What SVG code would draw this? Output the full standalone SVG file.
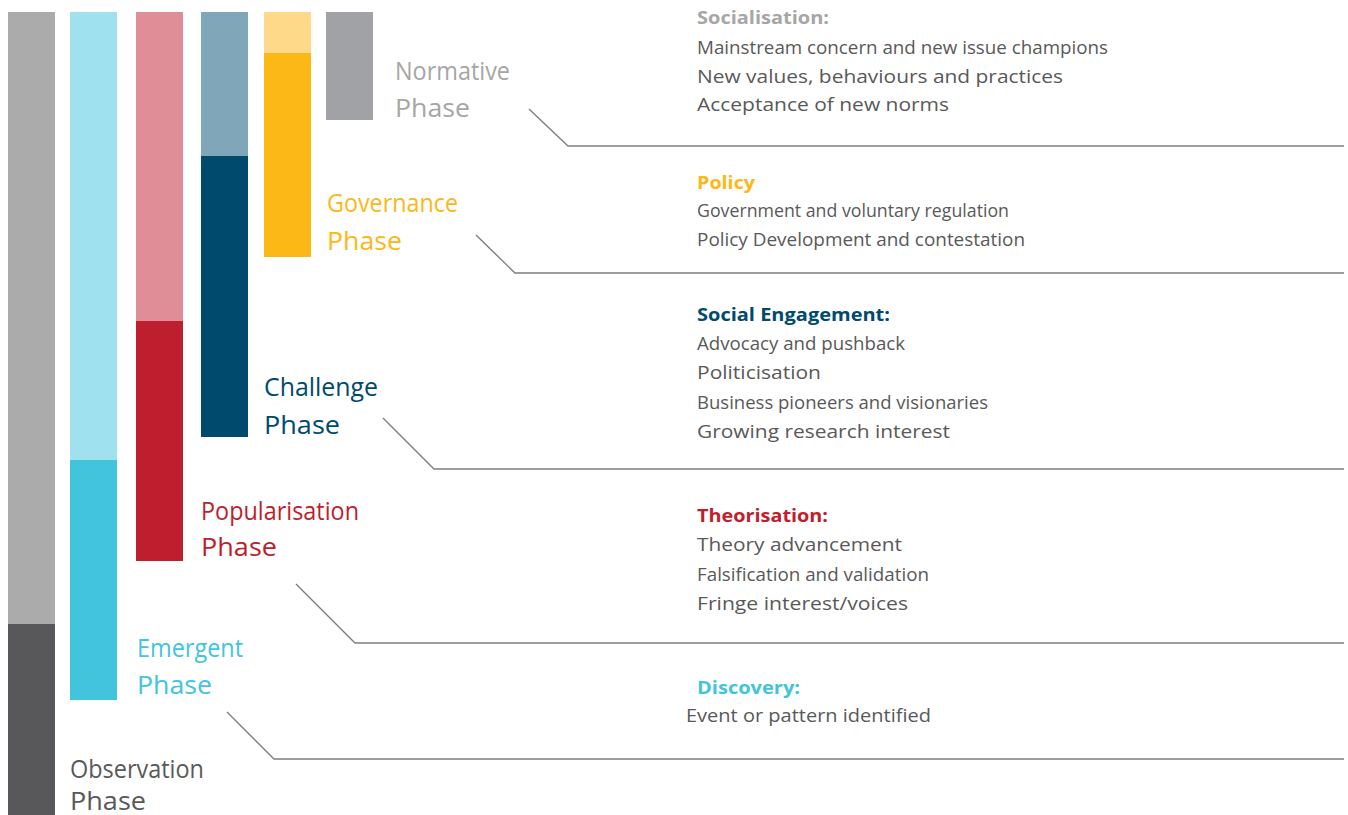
<svg xmlns="http://www.w3.org/2000/svg" width="1348" height="815" viewBox="0 0 1348 815">
<style>
text{font-family:"Open Sans","Noto Sans","Liberation Sans",sans-serif;}
.ph{font-size:25px;font-weight:400;}
.b{font-size:19px;fill:#595959;}
.s{font-size:18px;fill:#595959;}
.h{font-size:18.5px;font-weight:700;}
.conn{fill:none;stroke:#7F7F7F;stroke-width:1.4;}
</style>
<rect width="1348" height="815" fill="#FFFFFF"/>
<g id="observation">
<rect x="8" y="12" width="47" height="612" fill="#ABABAB"/>
<rect x="8" y="624" width="47" height="191" fill="#58585A"/>
<text class="ph" x="70" y="778" fill="#595959" textLength="134" lengthAdjust="spacingAndGlyphs">Observation</text>
<text class="ph" x="70" y="810" fill="#595959" textLength="76" lengthAdjust="spacingAndGlyphs">Phase</text>
</g>
<g id="emergent">
<rect x="70" y="12" width="47" height="448" fill="#A0E1EF"/>
<rect x="70" y="460" width="47" height="240" fill="#42C4DD"/>
<text class="ph" x="137" y="657" fill="#42C4DD" textLength="106" lengthAdjust="spacingAndGlyphs">Emergent</text>
<text class="ph" x="137" y="694" fill="#42C4DD" textLength="75" lengthAdjust="spacingAndGlyphs">Phase</text>
</g>
<g id="popularisation">
<rect x="136" y="12" width="47" height="309" fill="#DF8E98"/>
<rect x="136" y="321" width="47" height="240" fill="#BE1E2D"/>
<text class="ph" x="201" y="520" fill="#BE1E2D" textLength="158" lengthAdjust="spacingAndGlyphs">Popularisation</text>
<text class="ph" x="201" y="556" fill="#BE1E2D" textLength="76" lengthAdjust="spacingAndGlyphs">Phase</text>
</g>
<g id="challenge">
<rect x="201" y="12" width="47" height="144" fill="#80A6BA"/>
<rect x="201" y="156" width="47" height="281" fill="#004A6E"/>
<text class="ph" x="264" y="396" fill="#004A6E" textLength="114" lengthAdjust="spacingAndGlyphs">Challenge</text>
<text class="ph" x="264" y="434" fill="#004A6E" textLength="76" lengthAdjust="spacingAndGlyphs">Phase</text>
</g>
<g id="governance">
<rect x="264" y="12" width="47" height="41" fill="#FFD98A"/>
<rect x="264" y="53" width="47" height="204" fill="#FBB817"/>
<text class="ph" x="327" y="212" fill="#FBB817" textLength="131" lengthAdjust="spacingAndGlyphs">Governance</text>
<text class="ph" x="327" y="250" fill="#FBB817" textLength="75" lengthAdjust="spacingAndGlyphs">Phase</text>
</g>
<g id="normative">
<rect x="326" y="12" width="47" height="108" fill="#A1A2A6"/>
<text class="ph" x="395" y="80" fill="#A6A6A6" textLength="115" lengthAdjust="spacingAndGlyphs">Normative</text>
<text class="ph" x="395" y="117" fill="#A6A6A6" textLength="75" lengthAdjust="spacingAndGlyphs">Phase</text>
</g>
<g id="connectors">
<polyline class="conn" points="529,109 568,146 1344,146"/>
<polyline class="conn" points="476,235 515,273 1344,273"/>
<polyline class="conn" points="383,418 434,469 1344,469"/>
<polyline class="conn" points="296,584 355,643 1344,643"/>
<polyline class="conn" points="227,712 274,759 1344,759"/>
</g>
<g id="socialisation">
<text class="h" x="697" y="24" fill="#A6A6A6" textLength="132" lengthAdjust="spacingAndGlyphs">Socialisation:</text>
<text class="b" x="697" y="54" textLength="411" lengthAdjust="spacingAndGlyphs">Mainstream concern and new issue champions</text>
<text class="b" x="697" y="83" textLength="366" lengthAdjust="spacingAndGlyphs">New values, behaviours and practices</text>
<text class="b" x="697" y="111" textLength="252" lengthAdjust="spacingAndGlyphs">Acceptance of new norms</text>
</g>
<g id="policy">
<text class="h" x="697" y="189" fill="#FBB817" textLength="58" lengthAdjust="spacingAndGlyphs">Policy</text>
<text class="s" x="697" y="217" textLength="312" lengthAdjust="spacingAndGlyphs">Government and voluntary regulation</text>
<text class="s" x="697" y="246" textLength="328" lengthAdjust="spacingAndGlyphs">Policy Development and contestation</text>
</g>
<g id="social-engagement">
<text class="h" x="697" y="321" fill="#004A6E" textLength="193" lengthAdjust="spacingAndGlyphs">Social Engagement:</text>
<text class="b" x="697" y="350" textLength="208" lengthAdjust="spacingAndGlyphs">Advocacy and pushback</text>
<text class="b" x="697" y="379" textLength="124" lengthAdjust="spacingAndGlyphs">Politicisation</text>
<text class="s" x="697" y="409" textLength="291" lengthAdjust="spacingAndGlyphs">Business pioneers and visionaries</text>
<text class="b" x="697" y="438" textLength="253" lengthAdjust="spacingAndGlyphs">Growing research interest</text>
</g>
<g id="theorisation">
<text class="h" x="697" y="522" fill="#BE1E2D" textLength="131" lengthAdjust="spacingAndGlyphs">Theorisation:</text>
<text class="b" x="697" y="551" textLength="205" lengthAdjust="spacingAndGlyphs">Theory advancement</text>
<text class="s" x="697" y="581" textLength="232" lengthAdjust="spacingAndGlyphs">Falsification and validation</text>
<text class="b" x="697" y="610" textLength="211" lengthAdjust="spacingAndGlyphs">Fringe interest/voices</text>
</g>
<g id="discovery">
<text class="h" x="697" y="694" fill="#42C4DD" textLength="103" lengthAdjust="spacingAndGlyphs">Discovery:</text>
<text class="b" x="686" y="722" textLength="245" lengthAdjust="spacingAndGlyphs">Event or pattern identified</text>
</g>
</svg>
